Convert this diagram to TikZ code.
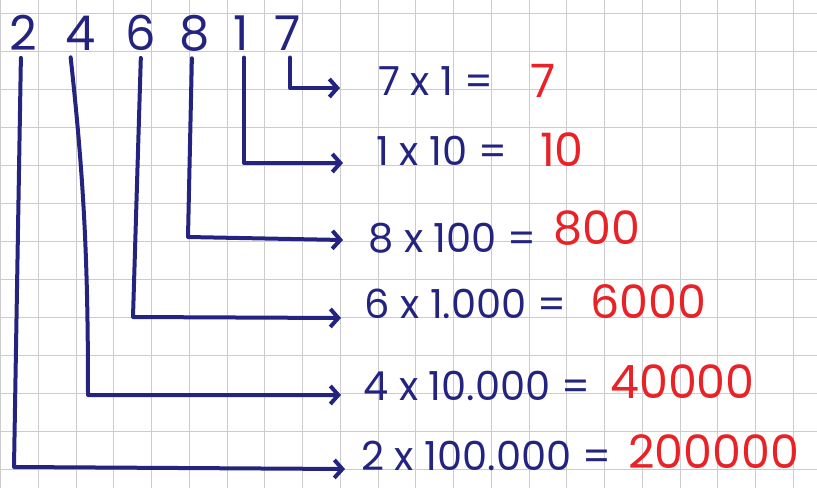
\documentclass[tikz,border=0pt]{standalone}
\usepackage{fontspec}
\setmainfont{Poppins}
\usetikzlibrary{arrows.meta,positioning}
\definecolor{ink}{RGB}{36,36,128}
\definecolor{rd}{RGB}{232,34,38}
\definecolor{gl}{RGB}{204,204,208}
\tikzset{dig/.style={text=ink,inner sep=1pt,font=\fontsize{48}{48}\selectfont},
 eq/.style={text=ink,anchor=west,inner sep=0pt,font=\fontsize{40}{40}\selectfont},
 res/.style={text=rd,anchor=west,inner sep=0pt,font=\fontsize{46}{46}\selectfont},
 wire/.style={draw=ink,line width=4pt,line cap=round,line join=round},
 arr/.style={wire,shorten <=6pt,-{Straight Barb[length=8pt,width=18pt]}},
 gridln/.style={draw=gl,line width=1pt}}
\begin{document}
\begin{tikzpicture}[x=1pt,y=-1pt]
\useasboundingbox (0,0) rectangle (817,488);
% squared paper
\foreach \i in {0,...,21}{\draw[gridln] (0.5+37.75*\i,0)--(0.5+37.75*\i,488);}
\foreach \j in {0,...,12}{\draw[gridln] (0,13+38.08*\j)--(817,13+38.08*\j);}
% the number
\node[dig] (d1) at (23,33) {2};\node[dig] (d2) at (81,33) {4};
\node[dig] (d3) at (141,33) {6};\node[dig] (d4) at (195,33) {8};
\node[dig] (d5) at (241,33) {1};\node[dig] (d6) at (288,33) {7};
% products
\node[eq] (e6) at (378,81) {7 x 1 =};\node[res] (r6) at (530,81) {7};
\node[eq] (e5) at (376,151) {1 x 10 =};\node[res] (r5) at (540,150) {10};
\node[eq] (e4) at (368,238) {8 x 100 =};\node[res] (r4) at (553,228) {800};
\node[eq] (e3) at (364,304) {6 x 1.000 =};\node[res] (r3) at (590,302) {6000};
\node[eq] (e2) at (363,386) {4 x 10.000 =};\node[res] (r2) at (610,382) {40000};
\node[eq] (e1) at (361,456) {2 x 100.000 =};\node[res] (r1) at (628,452) {200000};
% corners and tips
\coordinate (k1) at (14,467);\coordinate (t1) at (345,469);
\coordinate (k2) at (88,395);\coordinate (t2) at (341,395);
\coordinate (k3) at (133,317);\coordinate (t3) at (341,318);
\coordinate (k4) at (188,237);\coordinate (t4) at (343,240);
\coordinate (k5) at (244,163);\coordinate (t5) at (343,163);
\coordinate (k6) at (290,88);\coordinate (t6) at (340,88);
\draw[arr] ([xshift=-2pt]d1.south)--(k1)--(t1);
\draw[arr] ([xshift=-11pt]d2.south) .. controls (84,180) and (88,260) .. (k2)--(t2);
\draw[arr] (d3.south)--(k3)--(t3);
\draw[arr] ([xshift=-3pt]d4.south)--(k4)--(t4);
\draw[arr] ([xshift=3pt]d5.south)--(k5)--(t5);
\draw[arr] ([xshift=2pt]d6.south)--(k6)--(t6);
\end{tikzpicture}
\end{document}
